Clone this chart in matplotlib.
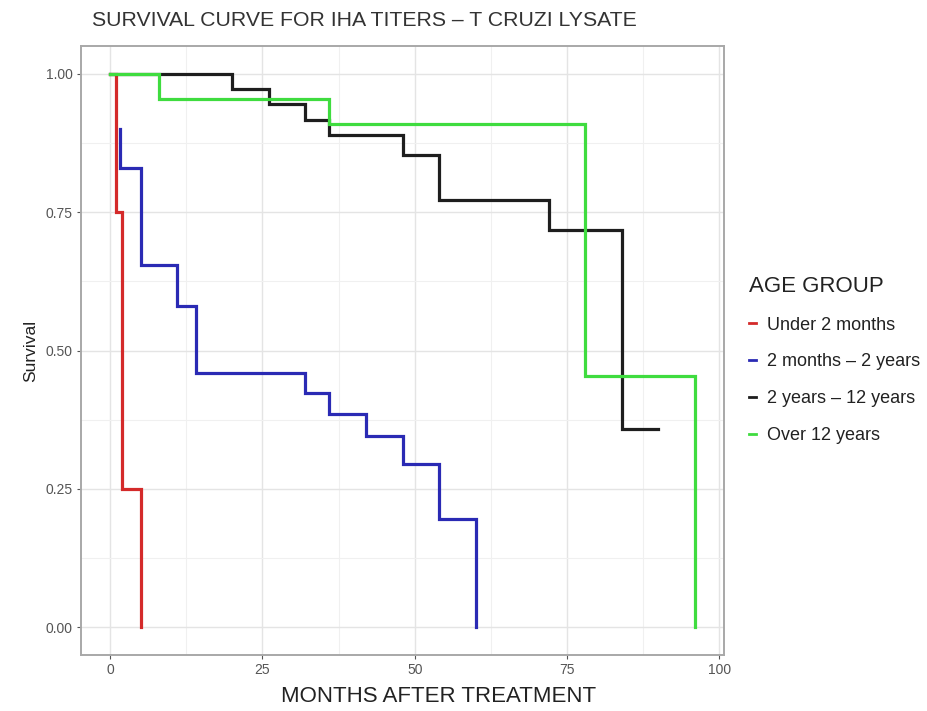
import matplotlib.pyplot as plt
from matplotlib.lines import Line2D
from matplotlib.ticker import MultipleLocator

plt.rcParams['font.family'] = ['Liberation Sans', 'DejaVu Sans']

# Kaplan-Meier step points per age group (time in months, survival)
red_t = [0, 1, 2, 5]
red_s = [1.0, 0.75, 0.25, 0.0]

blue_t = [1.6, 1.6, 5, 11, 14, 32, 36, 42, 48, 54, 60]
blue_s = [0.90, 0.83, 0.655, 0.58, 0.46, 0.423, 0.385, 0.345, 0.295, 0.196, 0.0]

black_t = [0, 20, 26, 32, 36, 48, 54, 72, 84, 90]
black_s = [1.0, 0.972, 0.945, 0.917, 0.889, 0.854, 0.772, 0.717, 0.359, 0.359]

green_t = [0, 8, 36, 78, 96]
green_s = [1.0, 0.955, 0.909, 0.4545, 0.0]

groups = ['Under 2 months', '2 months \u2013 2 years', '2 years \u2013 12 years', 'Over 12 years']
colors = ['#d42a2a', '#2a2ab4', '#1e1e1e', '#3fdc3f']

fig = plt.figure(figsize=(9.28, 7.11), dpi=100)
ax = fig.add_axes([0.0873, 0.079, 0.693, 0.856])

series = [(red_t, red_s), (blue_t, blue_s), (black_t, black_s), (green_t, green_s)]
for (t, s), c in zip(series, colors):
    ax.step(t, s, where='post', color=c, lw=2.3, solid_joinstyle='miter')

ax.set_xlim(-4.8, 100.8)
ax.set_ylim(-0.05, 1.05)
ax.xaxis.set_major_locator(MultipleLocator(25))
ax.xaxis.set_minor_locator(MultipleLocator(12.5))
ax.yaxis.set_major_locator(MultipleLocator(0.25))
ax.yaxis.set_minor_locator(MultipleLocator(0.125))
ax.yaxis.set_major_formatter(lambda v, p: f'{v:.2f}')
ax.grid(True, which='major', color='#e4e4e4', lw=1.0)
ax.grid(True, which='minor', color='#f0f0f0', lw=0.8)
ax.set_axisbelow(True)
for sp in ax.spines.values():
    sp.set_color('#a8a8a8')
    sp.set_linewidth(1.4)
ax.tick_params(which='major', length=3, color='#555555', labelsize=10, labelcolor='#555555', pad=3)
ax.tick_params(which='minor', length=0)

ax.set_ylabel('Survival', fontsize=12.5, color='#222222', labelpad=5)
fig.text(0.473, 1 - 697 / 711, 'MONTHS AFTER TREATMENT', fontsize=16, color='#222222',
         ha='center', va='center')
fig.text(0.099, 1 - 20 / 711, 'SURVIVAL CURVE FOR IHA TITERS \u2013 T CRUZI LYSATE',
         fontsize=15.3, color='#333333', va='center', ha='left')

handles = [Line2D([], [], color=c, lw=2) for c in colors]
leg = fig.legend(handles, groups, loc='upper left', bbox_to_anchor=(0.7895, 0.635),
                 title='AGE GROUP', frameon=False, fontsize=13, title_fontsize=16,
                 handlelength=0.4, handletextpad=0.6, labelspacing=1.1, alignment='left')
for txt in leg.get_texts():
    txt.set_color('#222222')
leg.get_title().set_color('#222222')

fig.savefig('out.png', dpi=100)
